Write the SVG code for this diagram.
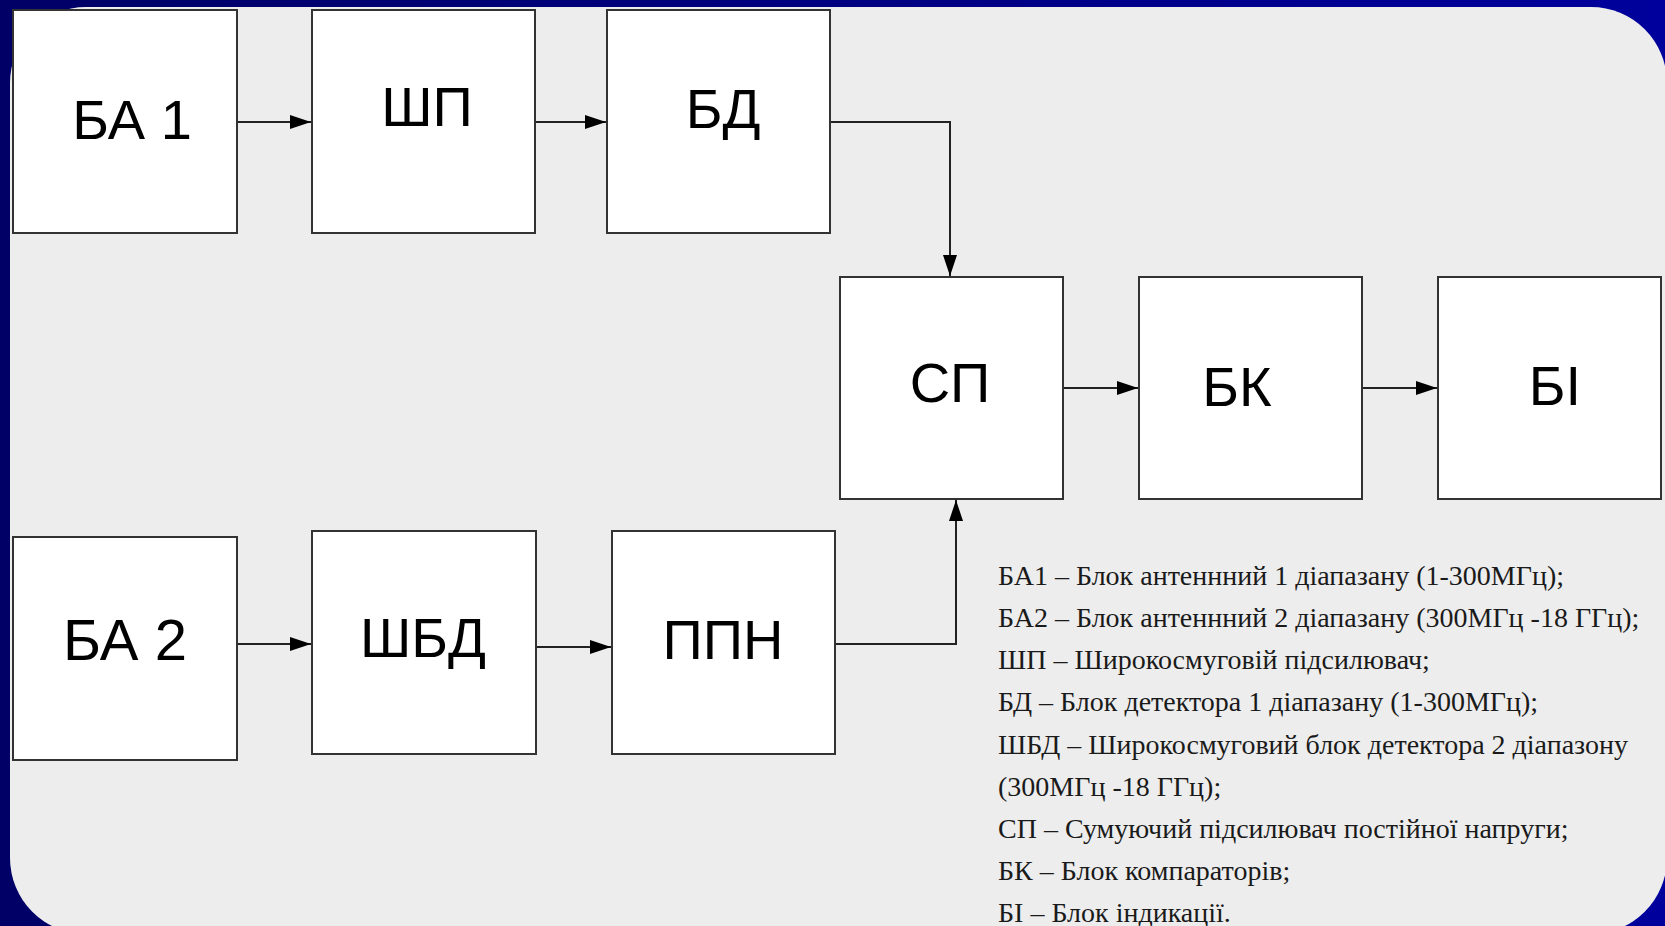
<svg xmlns="http://www.w3.org/2000/svg" width="1665" height="926" viewBox="0 0 1665 926">
  <defs>
    <linearGradient id="bg" x1="0" y1="0" x2="1" y2="0">
      <stop offset="0" stop-color="#000066"/>
      <stop offset="1" stop-color="#00009C"/>
    </linearGradient>
    <marker id="arr" markerUnits="userSpaceOnUse" markerWidth="22" markerHeight="16" refX="21" refY="7" orient="auto">
      <path d="M0,0 L21,7 L0,14 z" fill="#000"/>
    </marker>
  </defs>
  <style>
    .box { fill: #fff; stroke: #333; stroke-width: 2; }
    .lbl { font-family: "Liberation Sans", Arial, sans-serif; font-size: 56px; fill: #000; text-anchor: middle; }
    .con { fill: none; stroke: #222; stroke-width: 2; }
    .leg { font-family: "Liberation Serif", "Times New Roman", serif; font-size: 28px; fill: #1a1a1a; }
  </style>
  <rect x="0" y="0" width="1665" height="926" fill="url(#bg)"/>
  <rect x="10" y="7" width="1657" height="927" rx="76" ry="76" fill="#EDEDED"/>

  <g id="connectors">
    <path class="con" d="M237,122 H311" marker-end="url(#arr)"/>
    <path class="con" d="M535,122 H606" marker-end="url(#arr)"/>
    <path class="con" d="M830,122 H950 V276" marker-end="url(#arr)"/>
    <path class="con" d="M237,644 H311" marker-end="url(#arr)"/>
    <path class="con" d="M536,647 H611" marker-end="url(#arr)"/>
    <path class="con" d="M835,644 H956 V500" marker-end="url(#arr)"/>
    <path class="con" d="M1063,388 H1138" marker-end="url(#arr)"/>
    <path class="con" d="M1362,388 H1437" marker-end="url(#arr)"/>
  </g>

  <g id="node-ba1">
    <rect class="box" x="13" y="10" width="224" height="223"/>
    <text class="lbl" x="132" y="139">БА 1</text>
  </g>
  <g id="node-shp">
    <rect class="box" x="312" y="10" width="223" height="223"/>
    <text class="lbl" x="427" y="126">ШП</text>
  </g>
  <g id="node-bd">
    <rect class="box" x="607" y="10" width="223" height="223"/>
    <text class="lbl" x="723" y="128">БД</text>
  </g>
  <g id="node-sp">
    <rect class="box" x="840" y="277" width="223" height="222"/>
    <text class="lbl" x="950" y="402">СП</text>
  </g>
  <g id="node-bk">
    <rect class="box" x="1139" y="277" width="223" height="222"/>
    <text class="lbl" x="1237" y="406">БК</text>
  </g>
  <g id="node-bi">
    <rect class="box" x="1438" y="277" width="223" height="222"/>
    <text class="lbl" x="1555" y="405">БІ</text>
  </g>
  <g id="node-ba2">
    <rect class="box" x="13" y="537" width="224" height="223"/>
    <text class="lbl" x="125" y="660" style="font-size:58px">БА 2</text>
  </g>
  <g id="node-shbd">
    <rect class="box" x="312" y="531" width="224" height="223"/>
    <text class="lbl" x="423" y="657">ШБД</text>
  </g>
  <g id="node-ppn">
    <rect class="box" x="612" y="531" width="223" height="223"/>
    <text class="lbl" x="723" y="659">ППН</text>
  </g>

  <g id="legend">
    <text class="leg" x="998" y="585">БА1 – Блок антеннний 1 діапазану (1-300МГц);</text>
    <text class="leg" x="998" y="627">БА2 – Блок антеннний 2 діапазану (300МГц -18 ГГц);</text>
    <text class="leg" x="998" y="669">ШП – Широкосмуговій підсилювач;</text>
    <text class="leg" x="998" y="711">БД – Блок детектора 1 діапазану (1-300МГц);</text>
    <text class="leg" x="998" y="754">ШБД – Широкосмуговий блок детектора 2 діапазону</text>
    <text class="leg" x="998" y="796">(300МГц -18 ГГц);</text>
    <text class="leg" x="998" y="838">СП – Сумуючий підсилювач постійної напруги;</text>
    <text class="leg" x="998" y="880">БК – Блок компараторів;</text>
    <text class="leg" x="998" y="922">БІ – Блок індикації.</text>
  </g>
</svg>
